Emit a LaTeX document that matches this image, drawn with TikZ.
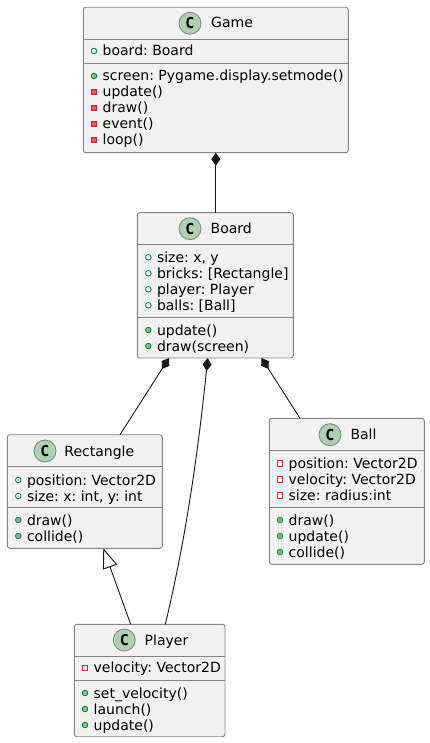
\documentclass[tikz,border=0pt]{standalone}
\usepackage{fontspec}
\setmainfont{DejaVu Sans}
\newfontfamily\monob{DejaVu Sans Mono}
\usetikzlibrary{arrows.meta,calc}
\frenchspacing
\definecolor{boxfill}{HTML}{F1F1F1}
\definecolor{boxline}{HTML}{181818}
\definecolor{frameline}{HTML}{848484}
\definecolor{cfill}{HTML}{ADD1B2}
\definecolor{publine}{HTML}{038048}
\definecolor{pubfill}{HTML}{84BE84}
\definecolor{privline}{HTML}{C82930}
\definecolor{privfill}{HTML}{F24D5C}
\tikzset{
  classbox/.style={draw=frameline, fill=boxfill, line width=0.9pt, rounded corners=2.5pt, inner sep=0pt, outer sep=0pt},
  sepline/.style={draw=frameline, line width=0.9pt},
  cicon/.style={circle, draw=frameline, fill=cfill, line width=0.8pt, minimum size=22pt, inner sep=0pt, font=\monob\bfseries\fontsize{15}{15}\selectfont},
  title/.style={anchor=base west, inner sep=0pt, font=\fontsize{14}{16}\selectfont},
  member/.style={anchor=base west, inner sep=0pt, font=\fontsize{14}{16}\selectfont},
  pubfield/.style={circle, draw=publine, line width=0.8pt, minimum size=5.6pt, inner sep=0pt},
  pubmeth/.style={circle, draw=publine, fill=pubfill, line width=0.8pt, minimum size=5.6pt, inner sep=0pt},
  privfield/.style={rectangle, draw=privline, line width=0.8pt, minimum size=5.6pt, inner sep=0pt},
  privmeth/.style={rectangle, draw=privline, fill=privfill, line width=0.8pt, minimum size=5.6pt, inner sep=0pt},
  conn/.style={draw=boxline, line width=0.9pt},
  comp/.tip={Diamond[length=13pt, width=9pt, fill=boxline]},
  inh/.tip={Triangle[length=20pt, width=15pt, fill=white]},
}
\newcommand\mem[5]{%
  \node[#4] (#1i) at (#2,#3) {};
  \node[member] (#1t) at (#2+8.5,#3+5) {#5};}
\begin{document}
\begin{tikzpicture}[x=1pt,y=-1pt]
\path[use as bounding box, fill=white] (0,0) rectangle (430,743);

% ---------- Game ----------
\node[classbox, minimum width=265pt, minimum height=145.4pt] (game) at (215.8,80) {};
\draw[sepline] (83.3,39.3) -- (348.3,39.3);
\draw[sepline] (83.3,63.3) -- (348.3,63.3);
\node[cicon] (gamec) at (190,23.3) {C};
\node[title] (gamet) at (211,28) {Game};
\mem{g1}{94}{51}{pubfield}{board: Board}
\mem{g2}{94}{76}{pubmeth}{screen: Pygame.display.setmode()}
\mem{g3}{94}{92}{privmeth}{update()}
\mem{g4}{94}{108}{privmeth}{draw()}
\mem{g5}{94}{124}{privmeth}{event()}
\mem{g6}{94}{140}{privmeth}{loop()}

% ---------- Board ----------
\node[classbox, minimum width=156pt, minimum height=145.3pt] (board) at (215.3,285.35) {};
\draw[sepline] (137.3,244.3) -- (293.3,244.3);
\draw[sepline] (137.3,317.3) -- (293.3,317.3);
\node[cicon] (boardc) at (190,228.7) {C};
\node[title] (boardt) at (210.5,233.5) {Board};
\mem{b1}{148.3}{257.3}{pubfield}{size: x, y}
\mem{b2}{148.3}{273.3}{pubfield}{bricks: [Rectangle]}
\mem{b3}{148.3}{289.3}{pubfield}{player: Player}
\mem{b4}{148.3}{305.3}{pubfield}{balls: [Ball]}
\mem{b5}{148.3}{330}{pubmeth}{update()}
\mem{b6}{148.3}{346}{pubmeth}{draw(screen)}

% ---------- Rectangle ----------
\node[classbox, minimum width=155pt, minimum height=113.6pt] (rect) at (84.8,491.5) {};
\draw[sepline] (7.3,466.3) -- (162.3,466.3);
\draw[sepline] (7.3,507.3) -- (162.3,507.3);
\node[cicon] (rectc) at (45,451) {C};
\node[title] (rectt) at (64.2,456) {Rectangle};
\mem{r1}{18.3}{480}{pubfield}{position: Vector2D}
\mem{r2}{18.3}{496}{pubfield}{size: x: int, y: int}
\mem{r3}{18.3}{520}{pubmeth}{draw()}
\mem{r4}{18.3}{536}{pubmeth}{collide()}

% ---------- Ball ----------
\node[classbox, minimum width=155pt, minimum height=146pt] (ball) at (346.8,491.3) {};
\draw[sepline] (269.3,450.3) -- (424.3,450.3);
\draw[sepline] (269.3,507.3) -- (424.3,507.3);
\node[cicon] (ballc) at (330,434.7) {C};
\node[title] (ballt) at (350.3,439.5) {Ball};
\mem{l1}{280}{463.3}{privfield}{position: Vector2D}
\mem{l2}{280}{479.3}{privfield}{velocity: Vector2D}
\mem{l3}{280}{495.3}{privfield}{size: radius:int}
\mem{l4}{280}{520}{pubmeth}{draw()}
\mem{l5}{280}{536}{pubmeth}{update()}
\mem{l6}{280}{552}{pubmeth}{collide()}

% ---------- Player ----------
\node[classbox, minimum width=150.7pt, minimum height=112.4pt] (player) at (149.65,680.5) {};
\draw[sepline] (74.3,656.7) -- (225,656.7);
\draw[sepline] (74.3,680) -- (225,680);
\node[cicon] (playerc) at (124.3,640) {C};
\node[title] (playert) at (144.5,645) {Player};
\mem{p1}{85}{667.7}{privfield}{velocity: Vector2D}
\mem{p2}{85}{693}{pubmeth}{set\_velocity()}
\mem{p3}{85}{709}{pubmeth}{launch()}
\mem{p4}{85}{725}{pubmeth}{update()}

% ---------- connectors ----------
\draw[conn, {comp}-] (game.south) -- (game.south |- board.north);
\draw[conn, {comp}-] ([xshift=31.7pt]board.south west) -- ([xshift=112.7pt]rect.north west);
\draw[conn, {comp}-] ([xshift=70.5pt]board.south west) .. controls (198.4,448) and (186.9,534.3) .. ([xshift=91pt]player.north west);
\draw[conn, {comp}-] ([xshift=124.2pt]board.south west) -- ([xshift=30.7pt]ball.north west);
\draw[conn, -{inh}] ([xshift=56.4pt]player.north west) -- ([xshift=96pt]rect.south west);
\end{tikzpicture}
\end{document}
